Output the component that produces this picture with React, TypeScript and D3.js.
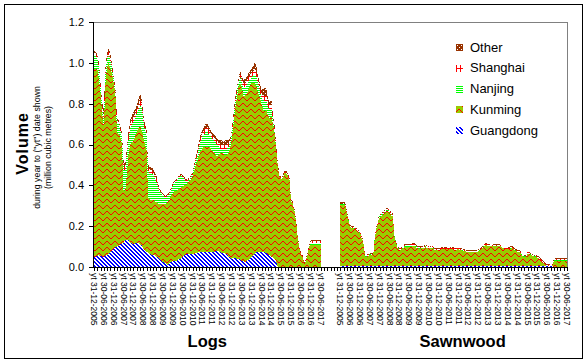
import React from "react";
import * as d3 from "d3";

// half-yearly axis labels, same for both groups
const periodLabels = [
  "yt 31-12-2005", "yt 30-06-2006", "yt 31-12-2006", "yt 30-06-2007", "yt 31-12-2007", "yt 30-06-2008",
  "yt 31-12-2008", "yt 30-06-2009", "yt 31-12-2009", "yt 30-06-2010", "yt 31-12-2010", "yt 30-06-2011",
  "yt 31-12-2011", "yt 30-06-2012", "yt 31-12-2012", "yt 30-06-2013", "yt 31-12-2013", "yt 30-06-2014",
  "yt 31-12-2014", "yt 30-06-2015", "yt 31-12-2015", "yt 30-06-2016", "yt 31-12-2016", "yt 30-06-2017",
];
const groups = ["Logs", "Sawnwood"];
const seriesNames = ["Guangdong", "Kunming", "Nanjing", "Shanghai", "Other"];
const yTicks = [0, 0.2, 0.4, 0.6, 0.8, 1.0, 1.2];

// ---- Logs, monthly, Dec 2005 .. Jun 2017 (million m3)
const logsGuangdong = [
  0.05, 0.05, 0.055, 0.057, 0.055, 0.05, 0.05, 0.055, 0.06, 0.065,
  0.075, 0.08, 0.09, 0.095, 0.10, 0.105, 0.11, 0.115, 0.12, 0.13,
  0.135, 0.13, 0.12, 0.115, 0.113, 0.115, 0.12, 0.12, 0.11, 0.105,
  0.09, 0.08, 0.075, 0.07, 0.065, 0.06, 0.06, 0.057, 0.05, 0.045,
  0.04, 0.03, 0.025, 0.02, 0.015, 0.01, 0.02, 0.025, 0.03, 0.03,
  0.03, 0.035, 0.04, 0.04, 0.05, 0.057, 0.06, 0.065, 0.065, 0.065,
  0.065, 0.065, 0.07, 0.07, 0.073, 0.073, 0.072, 0.073, 0.075, 0.075,
  0.076, 0.075, 0.072, 0.072, 0.078, 0.081, 0.078, 0.072, 0.07, 0.07,
  0.065, 0.06, 0.05, 0.045, 0.04, 0.045, 0.045, 0.04, 0.04, 0.035,
  0.03, 0.028, 0.025, 0.03, 0.035, 0.04, 0.05, 0.057, 0.065, 0.073,
  0.075, 0.076, 0.075, 0.072, 0.072, 0.068, 0.062, 0.057, 0.05, 0.045,
  0.04, 0.025, 0, 0, 0, 0, 0, 0, 0, 0,
  0, 0, 0, 0, 0, 0, 0, 0, 0, 0,
  0, 0, 0, 0, 0, 0, 0, 0, 0,
];
const logsKunming = [
  0.92, 0.92, 0.915, 0.863, 0.795, 0.70, 0.64, 0.845, 0.92, 0.935,
  0.895, 0.87, 0.81, 0.755, 0.56, 0.545, 0.53, 0.485, 0.25, 0.24,
  0.315, 0.42, 0.48, 0.495, 0.507, 0.525, 0.54, 0.56, 0.58, 0.565,
  0.55, 0.52, 0.495, 0.27, 0.265, 0.27, 0.27, 0.263, 0.27, 0.265,
  0.27, 0.28, 0.285, 0.29, 0.295, 0.31, 0.31, 0.325, 0.33, 0.34,
  0.34, 0.345, 0.34, 0.35, 0.34, 0.343, 0.34, 0.345, 0.355, 0.365,
  0.375, 0.405, 0.43, 0.45, 0.477, 0.497, 0.508, 0.517, 0.515, 0.515,
  0.514, 0.505, 0.498, 0.488, 0.472, 0.459, 0.472, 0.488, 0.49, 0.48,
  0.485, 0.49, 0.51, 0.545, 0.59, 0.655, 0.735, 0.79, 0.84, 0.865,
  0.85, 0.812, 0.815, 0.82, 0.835, 0.85, 0.85, 0.843, 0.835, 0.807,
  0.775, 0.754, 0.725, 0.698, 0.688, 0.702, 0.678, 0.673, 0.69, 0.655,
  0.61, 0.545, 0.49, 0.44, 0.43, 0.44, 0.46, 0.46, 0.45, 0.43,
  0.32, 0.31, 0.28, 0.22, 0.15, 0.09, 0.06, 0.05, 0.01, 0.03,
  0.06, 0.10, 0.11, 0.11, 0.11, 0.11, 0.11, 0.11, 0.11,
];
const logsNanjing = [
  0.06, 0.07, 0.05, 0.05, 0.03, 0.02, 0.03, 0.05, 0.04, 0.04,
  0.04, 0.02, 0.02, 0.01, 0.04, 0.05, 0.03, 0.04, 0.12, 0.09,
  0.10, 0.07, 0.08, 0.09, 0.09, 0.09, 0.09, 0.09, 0.10, 0.11,
  0.08, 0.07, 0.07, 0.13, 0.13, 0.13, 0.12, 0.12, 0.10, 0.08,
  0.06, 0.05, 0.04, 0.03, 0.03, 0.03, 0.03, 0.03, 0.04, 0.04,
  0.05, 0.05, 0.06, 0.06, 0.05, 0.03, 0.02, 0.01, 0.01, 0.01,
  0.01, 0.02, 0.02, 0.03, 0.04, 0.05, 0.06, 0.06, 0.07, 0.07,
  0.06, 0.06, 0.06, 0.06, 0.06, 0.06, 0.04, 0.02, 0.02, 0.03,
  0.03, 0.03, 0.03, 0.02, 0.03, 0.03, 0.02, 0.03, 0.02, 0.03,
  0.02, 0.04, 0.04, 0.04, 0.04, 0.03, 0.03, 0.04, 0.04, 0.05,
  0.04, 0.03, 0.03, 0.05, 0.05, 0.04, 0.04, 0.04, 0.04, 0.02,
  0.01, 0, 0, 0, 0, 0, 0, 0, 0, 0,
  0, 0, 0, 0, 0, 0, 0, 0, 0, 0,
  0, 0, 0.01, 0.01, 0.01, 0.01, 0.01, 0.01, 0.01,
];
const logsShanghai = [
  0.015, 0.01, 0.01, 0.015, 0.01, 0.015, 0.02, 0.015, 0.015, 0.015,
  0.015, 0.01, 0.005, 0.01, 0.015, 0.01, 0.01, 0.01, 0.015, 0.02,
  0.015, 0.02, 0.02, 0.02, 0.02, 0.02, 0.02, 0.02, 0.03, 0.02,
  0.015, 0.015, 0.015, 0.015, 0.015, 0.015, 0.015, 0.01, 0.015, 0.01,
  0.005, 0.005, 0.005, 0.005, 0.005, 0.005, 0.005, 0.005, 0.005, 0.005,
  0.005, 0.005, 0.005, 0.005, 0.005, 0.005, 0.005, 0.005, 0.005, 0.005,
  0.005, 0.005, 0.01, 0.01, 0.015, 0.015, 0.015, 0.02, 0.02, 0.02,
  0.02, 0.015, 0.015, 0.015, 0.015, 0.015, 0.015, 0.02, 0.02, 0.015,
  0.02, 0.02, 0.015, 0.01, 0.01, 0.015, 0.015, 0.01, 0.01, 0.015,
  0.015, 0.02, 0.02, 0.02, 0.02, 0.02, 0.02, 0.02, 0.03, 0.02,
  0.02, 0.02, 0.02, 0.02, 0.03, 0.03, 0.02, 0.02, 0.02, 0.01,
  0.015, 0.01, 0.005, 0.005, 0.005, 0.005, 0.005, 0.005, 0.005, 0.005,
  0.005, 0.005, 0.005, 0.005, 0.005, 0.005, 0.005, 0.005, 0.005, 0.005,
  0.005, 0.005, 0.005, 0.005, 0.005, 0.005, 0.005, 0.005, 0.005,
];
const logsOther = [
  0.015, 0.01, 0.01, 0.015, 0.01, 0.015, 0.04, 0.015, 0.015, 0.015,
  0.015, 0.01, 0.005, 0.01, 0.015, 0.01, 0.01, 0.01, 0.015, 0.02,
  0.015, 0.02, 0.02, 0.02, 0.03, 0.02, 0.02, 0.03, 0.03, 0.02,
  0.015, 0.015, 0.015, 0.015, 0.015, 0.015, 0.015, 0.01, 0.015, 0.01,
  0.005, 0.005, 0.005, 0.005, 0.005, 0.005, 0.005, 0.005, 0.005, 0.005,
  0.005, 0.005, 0.005, 0.005, 0.005, 0.005, 0.005, 0.005, 0.005, 0.005,
  0.005, 0.005, 0.01, 0.01, 0.015, 0.015, 0.015, 0.02, 0.02, 0.02,
  0.02, 0.015, 0.015, 0.015, 0.015, 0.015, 0.015, 0.02, 0.02, 0.015,
  0.02, 0.02, 0.015, 0.01, 0.01, 0.015, 0.015, 0.01, 0.01, 0.015,
  0.015, 0.02, 0.02, 0.02, 0.02, 0.02, 0.02, 0.03, 0.03, 0.03,
  0.02, 0.02, 0.02, 0.03, 0.04, 0.03, 0.02, 0.02, 0.02, 0.01,
  0.015, 0.01, 0.005, 0.005, 0.005, 0.005, 0.005, 0.005, 0.005, 0.005,
  0.005, 0.005, 0.005, 0.005, 0.005, 0.005, 0.005, 0.005, 0.005, 0.005,
  0.005, 0.005, 0.005, 0.005, 0.005, 0.005, 0.005, 0.005, 0.005,
];

// ---- Sawnwood, monthly, Dec 2005 .. Jun 2017
const sawGuangdong = [
  0.003, 0.003, 0.003, 0.003, 0.003, 0.003, 0.003, 0.003, 0.003, 0.003,
  0.003, 0.003, 0.003, 0.003, 0.003, 0.003, 0.003, 0.003, 0.003, 0.003,
  0.003, 0.003, 0.003, 0.003, 0.003, 0.003, 0.003, 0.003, 0.003, 0.003,
  0.003, 0.003, 0.003, 0.003, 0.003, 0.003, 0.003, 0.003, 0.003, 0.003,
  0.003, 0.003, 0.003, 0.003, 0.003, 0.003, 0.003, 0.003, 0.003, 0.003,
  0.003, 0.003, 0.003, 0.003, 0.003, 0.003, 0.003, 0.003, 0.003, 0.003,
  0.003, 0.003, 0.003, 0.003, 0.003, 0.003, 0.003, 0.003, 0.003, 0.003,
  0.003, 0.003, 0.003, 0.003, 0.003, 0.003, 0.003, 0.003, 0.003, 0.003,
  0.003, 0.003, 0.003, 0.003, 0.003, 0.003, 0.003, 0.003, 0.003, 0.003,
  0.003, 0.003, 0.003, 0.003, 0.003, 0.003, 0.003, 0.003, 0.003, 0.003,
  0.003, 0.003, 0.003, 0.003, 0.003, 0.003, 0.003, 0.003, 0.003, 0.003,
  0.003, 0.003, 0.003, 0.003, 0.003, 0.003, 0.003, 0.003, 0.003, 0.003,
  0.003, 0.003, 0.003, 0.003, 0.003, 0.003, 0.003, 0.003, 0.003, 0.003,
  0.002, 0.002, 0.002, 0.002, 0.002, 0.002, 0.002, 0.002, 0.002,
];
const sawKunming = [
  0.302, 0.302, 0.302, 0.302, 0.258, 0.223, 0.193, 0.188, 0.188, 0.183,
  0.178, 0.168, 0.164, 0.138, 0.118, 0.048, 0.048, 0.052, 0.058, 0.055,
  0.055, 0.143, 0.186, 0.224, 0.24, 0.248, 0.252, 0.262, 0.269, 0.269,
  0.262, 0.248, 0.245, 0.144, 0.111, 0.087, 0.082, 0.082, 0.087, 0.097,
  0.095, 0.095, 0.095, 0.095, 0.098, 0.098, 0.095, 0.088, 0.085, 0.088,
  0.088, 0.09, 0.093, 0.09, 0.09, 0.088, 0.093, 0.083, 0.079, 0.079,
  0.079, 0.083, 0.084, 0.084, 0.084, 0.084, 0.083, 0.084, 0.084, 0.084,
  0.081, 0.083, 0.083, 0.081, 0.078, 0.075, 0.075, 0.071, 0.071, 0.071,
  0.071, 0.071, 0.071, 0.071, 0.074, 0.079, 0.084, 0.096, 0.104, 0.104,
  0.101, 0.098, 0.098, 0.098, 0.099, 0.099, 0.098, 0.099, 0.096, 0.091,
  0.083, 0.083, 0.083, 0.085, 0.088, 0.088, 0.079, 0.075, 0.071, 0.071,
  0.063, 0.047, 0.047, 0.047, 0.063, 0.063, 0.055, 0.052, 0.047, 0.047,
  0.042, 0.038, 0.03, 0.022, 0.014, 0.006, 0, 0.003, 0, 0,
  0.027, 0.029, 0.029, 0.029, 0.029, 0.029, 0.029, 0.029, 0.029,
];
const sawNanjing = [
  0.002, 0.002, 0.002, 0.002, 0.002, 0.002, 0.002, 0.002, 0.002, 0.002,
  0.002, 0.002, 0.002, 0.002, 0.002, 0.002, 0.002, 0.002, 0.002, 0.002,
  0.002, 0.004, 0.004, 0.004, 0.008, 0.008, 0.008, 0.008, 0.008, 0.008,
  0.008, 0.008, 0.008, 0.003, 0.003, 0.003, 0.003, 0.003, 0.003, 0.003,
  0.008, 0.008, 0.008, 0.008, 0.008, 0.008, 0.005, 0.005, 0.005, 0.005,
  0.005, 0.005, 0.005, 0.005, 0.005, 0.005, 0.002, 0.002, 0.002, 0.002,
  0.002, 0.002, 0.002, 0.002, 0.002, 0.002, 0.002, 0.002, 0.002, 0.002,
  0.002, 0.002, 0.002, 0.002, 0.002, 0.002, 0.002, 0.002, 0.002, 0.002,
  0.002, 0.002, 0.002, 0.002, 0.002, 0.002, 0.002, 0.002, 0.002, 0.002,
  0.002, 0.002, 0.002, 0.002, 0.002, 0.002, 0.002, 0.002, 0.002, 0.002,
  0.002, 0.002, 0.002, 0.002, 0.002, 0.002, 0.002, 0.002, 0.002, 0.002,
  0.002, 0.002, 0.002, 0.002, 0.002, 0.002, 0.002, 0.002, 0.002, 0.002,
  0.002, 0.002, 0.002, 0.002, 0.002, 0.002, 0.002, 0.002, 0.002, 0.002,
  0.002, 0.002, 0.002, 0.002, 0.002, 0.002, 0.002, 0.002, 0.002,
];
const sawShanghai = [
  0.004, 0.004, 0.004, 0.004, 0.004, 0.004, 0.004, 0.004, 0.004, 0.004,
  0.004, 0.004, 0.004, 0.004, 0.004, 0.004, 0.004, 0.004, 0.004, 0.004,
  0.004, 0.004, 0.004, 0.004, 0.004, 0.004, 0.004, 0.004, 0.004, 0.004,
  0.004, 0.004, 0.004, 0.004, 0.004, 0.004, 0.004, 0.004, 0.004, 0.004,
  0.004, 0.004, 0.004, 0.004, 0.004, 0.004, 0.004, 0.004, 0.004, 0.004,
  0.004, 0.004, 0.004, 0.004, 0.004, 0.004, 0.004, 0.004, 0.004, 0.004,
  0.004, 0.004, 0.004, 0.004, 0.004, 0.004, 0.004, 0.004, 0.004, 0.004,
  0.004, 0.004, 0.004, 0.004, 0.004, 0.004, 0.004, 0.004, 0.004, 0.004,
  0.004, 0.004, 0.004, 0.004, 0.004, 0.004, 0.004, 0.004, 0.004, 0.004,
  0.004, 0.004, 0.004, 0.004, 0.004, 0.004, 0.004, 0.004, 0.004, 0.004,
  0.004, 0.004, 0.004, 0.004, 0.004, 0.004, 0.004, 0.004, 0.004, 0.004,
  0.004, 0.004, 0.004, 0.004, 0.004, 0.004, 0.004, 0.004, 0.004, 0.004,
  0.004, 0.004, 0.004, 0.004, 0.004, 0.004, 0.004, 0.004, 0.004, 0.004,
  0.005, 0.005, 0.005, 0.005, 0.005, 0.005, 0.005, 0.005, 0.005,
];
const sawOther = [
  0.006, 0.006, 0.006, 0.006, 0.003, 0.003, 0.003, 0.003, 0.003, 0.003,
  0.003, 0.003, 0.003, 0.003, 0.003, 0.003, 0.003, 0.003, 0.003, 0.003,
  0.003, 0.003, 0.003, 0.003, 0.003, 0.003, 0.003, 0.003, 0.003, 0.003,
  0.003, 0.003, 0.003, 0.003, 0.003, 0.003, 0.003, 0.003, 0.003, 0.003,
  0.003, 0.003, 0.003, 0.003, 0.003, 0.003, 0.003, 0.003, 0.003, 0.003,
  0.003, 0.003, 0.003, 0.003, 0.003, 0.003, 0.003, 0.003, 0.003, 0.003,
  0.003, 0.003, 0.003, 0.003, 0.003, 0.003, 0.003, 0.003, 0.003, 0.003,
  0.003, 0.003, 0.003, 0.003, 0.003, 0.003, 0.003, 0.003, 0.003, 0.003,
  0.003, 0.003, 0.003, 0.003, 0.003, 0.003, 0.003, 0.003, 0.003, 0.003,
  0.003, 0.003, 0.003, 0.003, 0.003, 0.003, 0.003, 0.003, 0.003, 0.003,
  0.003, 0.003, 0.003, 0.006, 0.006, 0.003, 0.003, 0.003, 0.003, 0.003,
  0.003, 0.003, 0.003, 0.003, 0.003, 0.003, 0.003, 0.003, 0.003, 0.003,
  0.003, 0.003, 0.003, 0.003, 0.003, 0.003, 0.003, 0.003, 0.003, 0.003,
  0.004, 0.004, 0.004, 0.004, 0.004, 0.004, 0.004, 0.004, 0.004,
];

const W = 588;
const H = 363;
const margin = { left: 94, right: 21, top: 22, bottom: 96 };
const gapSlots = 11; // empty categories between the two groups
const font = "Arial, 'Liberation Sans', sans-serif";

const keys = ["guangdong", "kunming", "nanjing", "shanghai", "other"];

const toRows = (g, k, n, s, o) =>
  g.map((_, i) => ({ guangdong: g[i], kunming: k[i], nanjing: n[i], shanghai: s[i], other: o[i] }));

const Patterns = () => (
  <defs>
    <pattern id="p-guangdong" width="4" height="4" patternUnits="userSpaceOnUse">
      <rect width="4" height="4" fill="#fff" />
      {[0, 1, 2, 3].map((k) => (
        <g key={k}>
          <rect x={k} y={k} width="1" height="1" fill="#0000ff" />
          <rect x={(k + 1) % 4} y={k} width="1" height="1" fill="#0000ff" />
        </g>
      ))}
    </pattern>
    <pattern id="p-kunming" width="8" height="6" patternUnits="userSpaceOnUse">
      <rect width="8" height="6" fill="#99cc00" />
      {[3, 2, 1, 1, 2, 3, 4, 4].map((yy, k) => (
        <rect key={k} x={k} y={yy} width="1" height="1" fill="#ff0000" />
      ))}
    </pattern>
    <pattern id="p-nanjing" width="4" height="2" patternUnits="userSpaceOnUse">
      <rect width="4" height="2" fill="#fff" />
      <rect width="4" height="1" fill="#00ff00" />
    </pattern>
    <pattern id="p-shanghai" width="4" height="4" patternUnits="userSpaceOnUse">
      <rect width="4" height="4" fill="#fff" />
      <rect width="4" height="1" fill="#ff0000" />
      <rect width="1" height="4" fill="#ff0000" />
    </pattern>
    <pattern id="p-other" width="4" height="4" patternUnits="userSpaceOnUse">
      <rect width="4" height="4" fill="#993300" />
      <rect x="1" y="1" width="1" height="1" fill="#fff" />
      <rect x="3" y="3" width="1" height="1" fill="#fff" />
    </pattern>
  </defs>
);

export default function App() {
  const n = logsGuangdong.length;
  const sawStart = n + gapSlots;
  const lastIdx = sawStart + sawGuangdong.length - 1;

  const x = d3.scaleLinear().domain([0, lastIdx]).range([margin.left, W - margin.right]);
  const y = d3.scaleLinear().domain([0, 1.2]).range([H - margin.bottom, margin.top]);

  const stack = d3.stack().keys(keys);
  const blocks = [
    { offset: 0, layers: stack(toRows(logsGuangdong, logsKunming, logsNanjing, logsShanghai, logsOther)) },
    { offset: sawStart, layers: stack(toRows(sawGuangdong, sawKunming, sawNanjing, sawShanghai, sawOther)) },
  ];

  const x0 = margin.left;
  const x1 = W - margin.right;
  const yBase = y(0);
  const yTop = y(1.2);

  const tickIdx = d3.range(0, lastIdx + 1, 2);
  const groupOffsets = [0, sawStart];

  return (
    <svg width={W} height={H} style={{ position: "absolute", left: 0, top: 0, background: "#fff" }} fontFamily={font}>
      <Patterns />
      <rect x={4.5} y={4.5} width={578} height={354} fill="#fff" stroke="#000" />

      {blocks.map((b, bi) => {
        const area = d3
          .area()
          .x((d, i) => x(b.offset + i))
          .y0((d) => y(d[0]))
          .y1((d) => y(d[1]));
        return (
          <g key={bi} shapeRendering="crispEdges">
            {b.layers.map((layer) => (
              <path key={layer.key} d={area(layer)} fill={`url(#p-${layer.key})`} />
            ))}
          </g>
        );
      })}

      {/* plot frame */}
      <line x1={x0} x2={x1} y1={yTop + 0.5} y2={yTop + 0.5} stroke="#808080" />
      <line x1={x1 + 0.5} x2={x1 + 0.5} y1={yTop} y2={yBase} stroke="#808080" />
      <line x1={x0 - 0.5} x2={x0 - 0.5} y1={yTop} y2={yBase} stroke="#000" />
      <line x1={x0 - 0.5} x2={x1} y1={yBase + 0.5} y2={yBase + 0.5} stroke="#000" />

      {/* y axis */}
      {yTicks.map((t) => (
        <g key={t}>
          <line x1={x0 - 5} x2={x0} y1={Math.round(y(t)) + 0.5} y2={Math.round(y(t)) + 0.5} stroke="#000" />
          <text x={x0 - 10} y={y(t)} dy="0.35em" textAnchor="end" fontSize={11} fill="#000">
            {t.toFixed(1)}
          </text>
        </g>
      ))}

      {/* x ticks */}
      {tickIdx.map((i) => (
        <line key={i} x1={Math.round(x(i)) + 0.5} x2={Math.round(x(i)) + 0.5} y1={yBase} y2={yBase + 4} stroke="#000" />
      ))}

      {/* x labels */}
      {groupOffsets.map((off, gi) =>
        periodLabels.map((lab, k) => {
          const px = x(off + k * 6);
          return (
            <text
              key={`${gi}-${k}`}
              transform={`translate(${px},${yBase + 6}) rotate(90)`}
              dy="0.35em"
              fontSize={8.5}
              fill="#000"
            >
              {lab}
            </text>
          );
        })
      )}

      {/* group titles */}
      <text x={(x(0) + x(n - 1)) / 2} y={347} textAnchor="middle" fontSize={16.5} fontWeight="bold">
        {groups[0]}
      </text>
      <text x={(x(sawStart) + x(lastIdx)) / 2 + 9} y={347} textAnchor="middle" fontSize={16.5} fontWeight="bold">
        {groups[1]}
      </text>

      {/* y title */}
      <g transform={`translate(28,${(yTop + yBase) / 2 - 1}) rotate(-90)`}>
        <text textAnchor="middle" fontSize={16} fontWeight="bold" letterSpacing={1}>
          Volume
        </text>
      </g>
      <g transform={`translate(40,${(yTop + yBase) / 2 + 3}) rotate(-90)`}>
        <text textAnchor="middle" fontSize={8.8}>
          during year to ("yt") date shown
        </text>
        <text y={11} textAnchor="middle" fontSize={8.8}>
          (million cubic metres)
        </text>
      </g>

      {/* legend */}
      {seriesNames
        .slice()
        .reverse()
        .map((name, k) => {
          const ly = 47 + k * 20.8;
          return (
            <g key={name}>
              <rect x={456} y={Math.round(ly) - 3} width={7} height={7} fill={`url(#p-${name.toLowerCase()})`} shapeRendering="crispEdges" />
              <text x={470} y={ly} dy="0.35em" fontSize={13}>
                {name}
              </text>
            </g>
          );
        })}
    </svg>
  );
}
